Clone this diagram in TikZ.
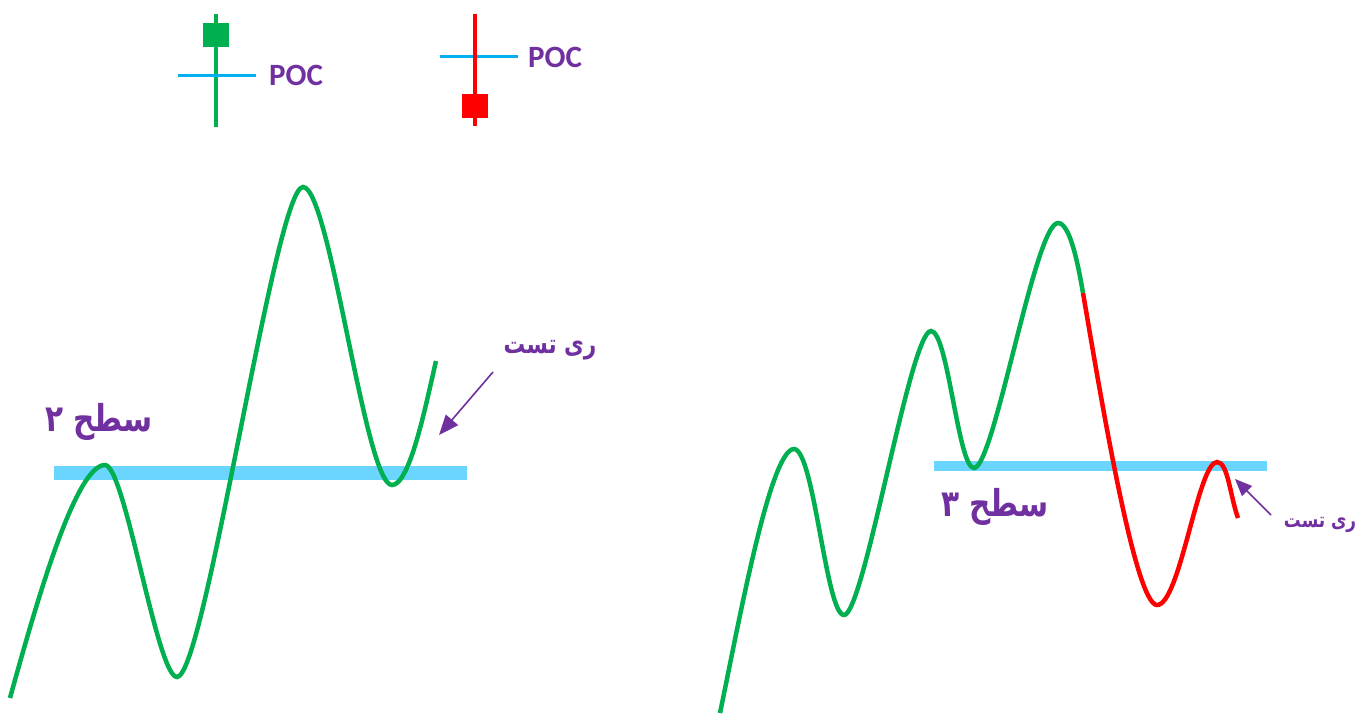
\documentclass[tikz,border=0pt]{standalone}
\usepackage{fontspec}
\setmainfont{Carlito}
\newfontfamily\arabicfont[Script=Arabic, FakeStretch=0.8]{DejaVu Sans}
\TeXXeTstate=1
\usetikzlibrary{arrows.meta,positioning}
\definecolor{chgreen}{HTML}{00B050}
\definecolor{chred}{HTML}{FF0000}
\definecolor{chlevel}{HTML}{6AD5FF}
\definecolor{chpoc}{HTML}{00B0F0}
\definecolor{chpurple}{HTML}{7030A0}
\tikzset{
  wave/.style={line width=4.5pt, color=chgreen},
  wavedn/.style={line width=4.5pt, color=chred},
  level/.style={draw=none, fill=chlevel},
  wick/.style={line width=4pt},
  body/.style={draw=none, minimum width=26pt, minimum height=24pt, inner sep=0pt},
  poc/.style={line width=3pt, color=chpoc},
  poclbl/.style={font=\fontsize{31}{31}\selectfont\bfseries, text=chpurple, anchor=west, inner sep=0pt},
  lvllbl/.style={font=\fontsize{37}{37}\selectfont\arabicfont\bfseries, text=chpurple, inner sep=0pt},
  rtlbl/.style={font=\fontsize{27}{27}\selectfont\arabicfont\bfseries, text=chpurple, inner sep=0pt},
  arr/.style={-{Triangle[length=20pt,width=16pt]}, line width=1.6pt, color=chpurple},
}
\begin{document}
\begin{tikzpicture}[x=1pt, y=-1pt]
  \useasboundingbox (0,0) rectangle (1364,713);
  % candles
  \draw[wick, chgreen] (216,14) -- (216,127);
  \node[body, fill=chgreen] (gbody) at (216,35) {};
  \draw[poc] (178,75) coordinate (gpocA) -- (256,75) coordinate (gpocB);
  \node[poclbl] (gpoc) at (269,75) {POC};
  \draw[poc] (440,56) coordinate (rpocA) -- (518,56) coordinate (rpocB);
  \draw[wick, chred] (475,14) -- (475,126);
  \node[body, fill=chred] (rbody) at (475,106) {};
  \node[poclbl] (rpoc) at (528,57) {POC};
  % left chart
  \fill[level] (54,466) rectangle (467,480);
  \draw[wave] (10,698) .. controls (35,608) and (75,465) .. (105,465)
    .. controls (125,465) and (157,677) .. (177,677)
    .. controls (205,677) and (275,187) .. (303,187)
    .. controls (330,187) and (365,485) .. (392,485)
    .. controls (410,485) and (426,404) .. (436,361);
  \node[lvllbl] (lvlA) at (99,422) {\beginR سطح ۲\endR};
  \node[rtlbl] (retestA) at (550,350) {\beginR ری تست\endR};
  \coordinate (tipA) at (439,435);
  \draw[arr] (493,372) coordinate (tailA) -- (tipA);
  % right chart
  \fill[level] (934,461) rectangle (1267,471);
  \draw[wave] (720,713) .. controls (738,627) and (770,449) .. (794,449)
    .. controls (814,449) and (826,615) .. (844,615)
    .. controls (864,615) and (910,331) .. (931,331)
    .. controls (948,331) and (958,468) .. (974,468)
    .. controls (994,468) and (1035,223) .. (1058,223)
    .. controls (1070,223) and (1078,264) .. (1083,293) coordinate (turn);
  \draw[wavedn] (turn) .. controls (1100,392) and (1135,605) .. (1157,605)
    .. controls (1180,605) and (1198,462) .. (1217,462)
    .. controls (1228,462) and (1230,496) .. (1238,518);
  \node[lvllbl] (lvlB) at (995,507) {\beginR سطح ۳\endR};
  \node[rtlbl, font=\fontsize{21}{21}\selectfont\arabicfont\bfseries] (retestB) at (1320,525) {\beginR ری تست\endR};
  \coordinate (tipB) at (1235,479);
  \draw[arr, -{Triangle[length=17pt,width=14pt]}] (1271,515) coordinate (tailB) -- (tipB);
\end{tikzpicture}
\end{document}
